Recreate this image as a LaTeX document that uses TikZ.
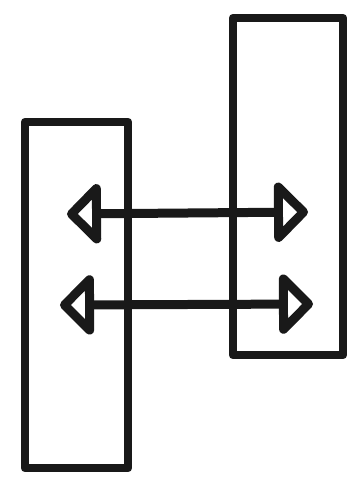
\documentclass[tikz,border=0pt]{standalone}
\usepackage{tikz}
\usetikzlibrary{arrows.meta}

\tikzset{headtip/.tip={Triangle[open, round, length=36pt, width=70pt, line width=14pt]}}

\begin{document}
\begin{tikzpicture}[x=1pt, y=-1pt, line join=round, line cap=round,
    bar/.style={draw=black!90, line width=8.5pt, inner sep=0pt},
    twoway/.style={draw=black!90, line width=9pt, headtip-headtip}]
    \useasboundingbox (0,0) rectangle (351,480);

    % left bar
    \node[bar, minimum width=103pt, minimum height=346pt] (leftbar) at (76.5, 295) {};

    % right bar
    \node[bar, minimum width=110pt, minimum height=337pt] (rightbar) at (288, 186.5) {};

    % arrow ends
    \coordinate (upL) at (67, 214);
    \coordinate (upR) at (308, 212);
    \coordinate (lowL) at (60, 305);
    \coordinate (lowR) at (313, 304);

    % arrows
    \draw[twoway] (upL) -- (upR);
    \draw[twoway] (lowL) -- (lowR);
\end{tikzpicture}
\end{document}
